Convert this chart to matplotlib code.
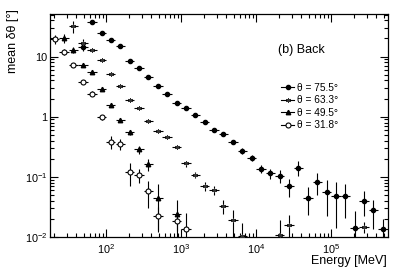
import numpy as np
import matplotlib
matplotlib.use("Agg")
import matplotlib.pyplot as plt
from matplotlib.lines import Line2D
from matplotlib.ticker import FixedLocator, FixedFormatter, NullFormatter

plt.rcParams['font.family'] = ['Liberation Sans', 'DejaVu Sans']
plt.rcParams['mathtext.fontset'] = 'custom'
plt.rcParams['mathtext.rm'] = 'Liberation Sans'
plt.rcParams['mathtext.it'] = 'Liberation Sans:italic'

# Bin centres (MeV), 8 log bins per decade
energy = [20.5, 27.4, 36.5, 48.7, 64.9, 86.6, 115, 154, 205, 274, 365, 487,
          649, 866, 1155, 1540, 2054, 2738, 3652, 4870, 6494, 8660, 11550, 15400,
          20535, 27385, 36520, 48700, 64940, 86600, 115480, 154000, 205350,
          273840, 365170, 486970]
bin_halfwidth_log = 0.0625

# theta = 75.5 deg (filled circle), bins 3..35
idx_755 = list(range(3, 36))
val_755 = [14.5, 36.9, 24.5, 19.0, 15.1, 8.6, 6.56, 4.64, 3.25, 2.39, 1.67, 1.38,
           1.05, 0.81, 0.60, 0.51, 0.374, 0.271, 0.207, 0.136, 0.114, 0.105, 0.070,
           0.142, 0.045, 0.083, 0.055, 0.048, 0.048, 0.0142, 0.0403, 0.0278, 0.0137]
err_755 = [2.0, 1.5, 0.8, 0.6, 0.45, 0.25, 0.2, 0.14, 0.1, 0.08, 0.06, 0.05,
           0.04, 0.035, 0.03, 0.03, 0.028, 0.027, 0.025, 0.021, 0.022, 0.025, 0.023,
           0.04, 0.022, 0.034, 0.033, 0.034, 0.027, 0.013, 0.018, 0.014, 0.0065]

# theta = 63.3 deg (asterisk)
idx_633 = list(range(2, 21)) + [24, 25, 33]
val_633 = [31.9, 17.1, 12.9, 8.8, 5.2, 3.25, 1.89, 1.39, 0.85, 0.578, 0.464, 0.316,
           0.167, 0.107, 0.070, 0.060, 0.0325, 0.019, 0.0104, 0.011, 0.0157, 0.0147]
err_633 = [7.0, 2.5, 0.8, 0.4, 0.25, 0.15, 0.09, 0.07, 0.05, 0.035, 0.03, 0.025,
           0.02, 0.013, 0.011, 0.01, 0.0085, 0.009, 0.007, 0.008, 0.0074, 0.003]

# theta = 49.5 deg (triangle)
idx_495 = list(range(1, 12)) + [13]
val_495 = [20.5, 12.9, 7.3, 5.6, 2.9, 1.54, 0.88, 0.55, 0.286, 0.161, 0.045, 0.0245]
err_495 = [3.5, 1.5, 0.6, 0.4, 0.2, 0.1, 0.06, 0.045, 0.045, 0.035, 0.032, 0.017]

# theta = 31.8 deg (open circle)
idx_318 = list(range(0, 12)) + [13, 14]
val_318 = [19.5, 12.1, 7.3, 3.83, 2.43, 0.98, 0.383, 0.35, 0.121, 0.108, 0.058,
           0.022, 0.0186, 0.0134]
err_318 = [3.5, 1.3, 0.6, 0.3, 0.2, 0.09, 0.09, 0.07, 0.05, 0.028, 0.028, 0.01,
           0.006, 0.012]

labels = ['θ = 75.5°', 'θ = 63.3°', 'θ = 49.5°', 'θ = 31.8°']

fig = plt.figure(figsize=(3.99, 2.73), dpi=100)
ax = fig.add_axes([50/399, 1-237/273, 337.5/399, 223.5/273])
ax.set_xscale('log')
ax.set_yscale('log')

styles = [
    dict(marker='o', ms=3.0, mfc='black', mec='black'),
    dict(marker=(6, 2, 0), ms=3.6, mfc='#333333', mec='#333333', mew=0.6),
    dict(marker='^', ms=3.2, mfc='black', mec='black'),
    dict(marker='o', ms=3.6, mfc='white', mec='black', mew=0.8),
]
series = [(idx_755, val_755, err_755), (idx_633, val_633, err_633),
          (idx_495, val_495, err_495), (idx_318, val_318, err_318)]

f = 10 ** bin_halfwidth_log
for (idx, v, e), st in zip(series, styles):
    x = np.array([energy[i] for i in idx])
    v = np.array(v)
    e = np.array(e)
    xerr = np.vstack([x - x / f, x * f - x])
    lo = np.minimum(e, v - 1e-4)
    ax.errorbar(x, v, yerr=np.vstack([lo, e]), xerr=xerr, fmt='none',
                ecolor='black', elinewidth=0.8, capsize=0, zorder=2)
    ax.plot(x, v, linestyle='none', zorder=3, **st)

ax.set_xlim(10 ** 1.25, 10 ** 5.75)
ax.set_ylim(0.01, 52)

ax.xaxis.set_major_locator(FixedLocator([1e2, 1e3, 1e4, 1e5]))
ax.xaxis.set_major_formatter(FixedFormatter(['$10^{2}$', '$10^{3}$', '$10^{4}$', '$10^{5}$']))
xminor = [m * 10 ** d for d in range(1, 6) for m in range(2, 10)]
ax.xaxis.set_minor_locator(FixedLocator(xminor))
ax.xaxis.set_minor_formatter(NullFormatter())

ax.yaxis.set_major_locator(FixedLocator([0.01, 0.1, 1, 10]))
ax.yaxis.set_major_formatter(FixedFormatter(['$10^{-2}$', '$10^{-1}$', '1', '10']))
yminor = [m * 10 ** d for d in range(-2, 2) for m in range(2, 10)]
ax.yaxis.set_minor_locator(FixedLocator(yminor))
ax.yaxis.set_minor_formatter(NullFormatter())

ax.tick_params(which='both', direction='in', top=True, right=True, width=0.8,
               labelsize=7.8, colors='black')
ax.tick_params(which='major', length=6)
ax.tick_params(which='minor', length=3)
ax.tick_params(axis='x', pad=4)
ax.tick_params(axis='y', pad=2)
for s in ax.spines.values():
    s.set_linewidth(0.9)

fig.text(386.5/399, 1-261/273, 'Energy [MeV]', ha='right', va='center', fontsize=9)
fig.text(13/399, 1-9/273, 'mean δθ [°]', ha='center', va='top', rotation=90, fontsize=9)

ax.text(0.744, 0.837, '(b) Back', transform=ax.transAxes, ha='center', va='center',
        fontsize=9)

handles = []
for st in styles:
    handles.append(Line2D([], [], color='black', lw=0.8, **st))
leg = ax.legend(handles, labels, loc='upper left', bbox_to_anchor=(0.685, 0.69),
                frameon=False, fontsize=7.3, handlelength=1.3, handletextpad=0.3,
                labelspacing=0.25, borderpad=0, borderaxespad=0)

fig.savefig('out.png', dpi=100)
